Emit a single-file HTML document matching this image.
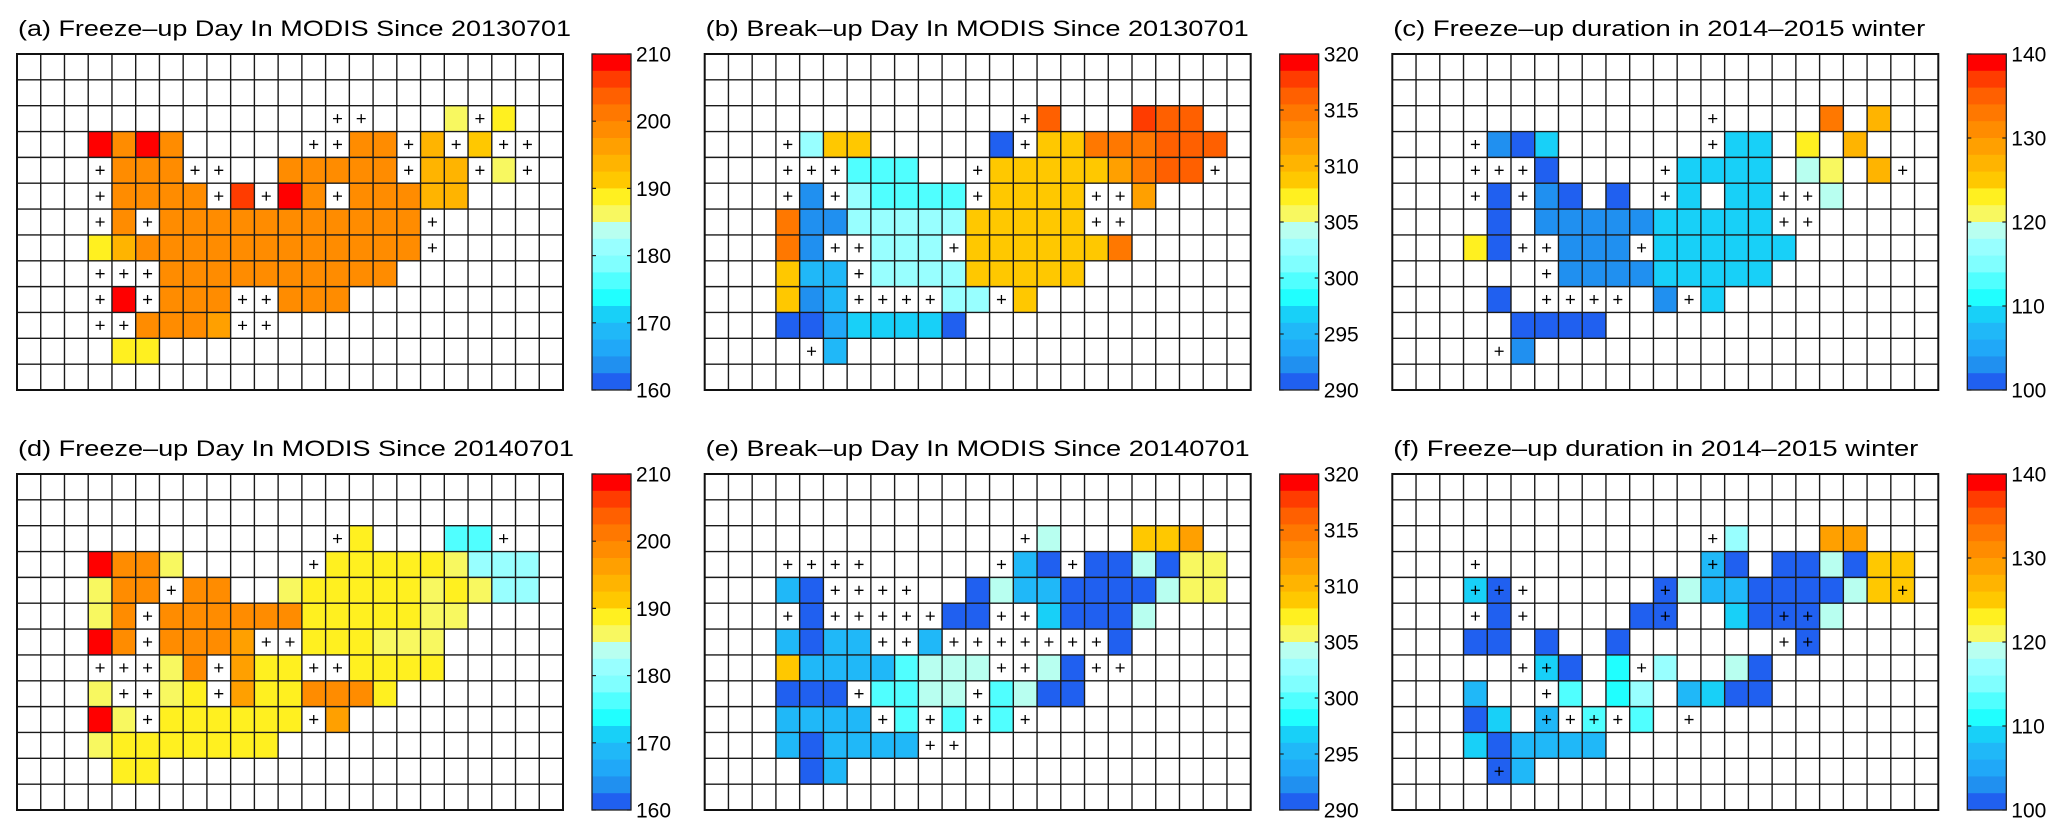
<!DOCTYPE html>
<html><head><meta charset="utf-8"><style>
html,body{margin:0;padding:0;background:#fff;}
svg{display:block;font-family:"Liberation Sans",Arial,sans-serif;}
</style></head>
<body>
<svg id="fig" width="2067" height="838" viewBox="0 0 2067 838" xmlns="http://www.w3.org/2000/svg"></svg>
<script>
// ---- data (cell runs: [row, colStart, colEnd, value]) ----
const titles = ["(a) Freeze\u2013up Day In MODIS Since 20130701","(b) Break\u2013up Day In MODIS Since 20130701","(c) Freeze\u2013up duration in 2014\u20132015 winter","(d) Freeze\u2013up Day In MODIS Since 20140701","(e) Break\u2013up Day In MODIS Since 20140701","(f) Freeze\u2013up duration in 2014\u20132015 winter"];
const rangesMin = [160,290,100,160,290,100];
const rangesMax = [210,320,140,210,320,140];
const tickStep = [10,5,10,10,5,10];

const cellsA = [[2,18,18,186],[2,20,20,189],[3,3,3,209],[3,4,4,199],[3,5,5,209],[3,6,6,199],[3,14,15,199],[3,17,17,194],[3,19,19,191],[4,4,6,199],[4,11,15,199],[4,17,18,194],[4,20,20,186],[5,4,7,199],[5,9,9,206],[5,11,11,209],[5,12,12,199],[5,14,16,199],[5,17,18,194],[6,4,4,199],[6,6,16,199],[7,3,3,189],[7,4,4,194],[7,5,16,199],[8,6,15,199],[9,4,4,209],[9,6,8,199],[9,11,13,199],[10,5,7,199],[10,8,8,196],[11,4,5,189]];
const plusA = [[2,13],[2,14],[2,19],[3,12],[3,13],[3,16],[3,18],[3,20],[3,21],[4,3],[4,7],[4,8],[4,16],[4,19],[4,21],[5,3],[5,8],[5,10],[5,13],[6,3],[6,5],[6,17],[7,17],[8,3],[8,4],[8,5],[9,3],[9,5],[9,9],[9,10],[10,3],[10,4],[10,9],[10,10]];

const cellsB = [[2,14,14,316.2],[2,18,18,317.7],[2,19,20,316.2],[3,4,4,302.7],[3,5,6,308.7],[3,12,12,290.7],[3,14,15,308.7],[3,16,18,314.7],[3,19,21,316.2],[4,6,8,299.7],[4,12,16,308.7],[4,17,17,311.7],[4,18,18,314.7],[4,19,20,316.2],[5,4,4,292.2],[5,6,6,302.7],[5,7,10,299.7],[5,12,15,308.7],[5,18,18,311.7],[6,3,3,314.7],[6,4,5,292.2],[6,6,10,302.7],[6,11,15,308.7],[7,3,3,314.7],[7,4,4,292.2],[7,7,9,302.7],[7,11,16,308.7],[7,17,17,314.7],[8,3,3,308.7],[8,4,5,295.2],[8,7,10,302.7],[8,11,15,308.7],[9,3,3,308.7],[9,4,4,292.2],[9,5,5,295.2],[9,10,11,302.7],[9,13,13,308.7],[10,3,4,290.7],[10,5,5,293.7],[10,6,9,296.7],[10,10,10,290.7],[11,5,5,295.2]];
const plusB = [[2,13],[3,3],[3,13],[4,3],[4,4],[4,5],[4,11],[4,21],[5,3],[5,5],[5,11],[5,16],[5,17],[6,16],[6,17],[7,5],[7,6],[7,10],[8,6],[9,6],[9,7],[9,8],[9,9],[9,12],[11,4]];

const cellsC = [[2,18,18,133],[2,20,20,127],[3,4,4,103],[3,5,5,101],[3,6,6,109],[3,14,15,109],[3,17,17,123],[3,19,19,127],[4,6,6,101],[4,12,15,109],[4,17,17,119],[4,18,18,121],[4,20,20,127],[5,4,4,101],[5,6,6,103],[5,7,7,101],[5,9,9,101],[5,12,12,109],[5,14,15,109],[5,18,18,119],[6,4,4,101],[6,6,10,103],[6,11,15,109],[7,3,3,123],[7,4,4,101],[7,7,9,103],[7,11,16,109],[8,7,10,103],[8,11,15,109],[9,4,4,101],[9,11,11,103],[9,13,13,109],[10,5,8,101],[11,5,5,103]];
const plusC = [[2,13],[3,3],[3,13],[4,3],[4,4],[4,5],[4,11],[4,21],[5,3],[5,5],[5,11],[5,16],[5,17],[6,16],[6,17],[7,5],[7,6],[7,10],[8,6],[9,6],[9,7],[9,8],[9,9],[9,12],[11,4]];

const cellsD = [[2,14,14,189],[2,18,19,176],[3,3,3,209],[3,4,5,199],[3,6,6,186],[3,13,17,189],[3,18,18,186],[3,19,21,181],[4,3,3,186],[4,4,5,199],[4,7,8,199],[4,11,11,186],[4,12,16,189],[4,17,17,186],[4,18,18,189],[4,19,19,186],[4,20,21,181],[5,3,3,186],[5,4,4,199],[5,6,11,199],[5,12,16,189],[5,17,18,186],[6,3,3,209],[6,4,4,199],[6,6,8,199],[6,9,9,196],[6,12,14,189],[6,15,17,186],[7,6,6,186],[7,7,7,199],[7,9,9,196],[7,10,11,189],[7,14,17,189],[8,3,3,186],[8,6,6,186],[8,7,7,189],[8,9,9,196],[8,10,11,189],[8,12,14,199],[8,15,15,189],[9,3,3,209],[9,4,4,186],[9,6,11,189],[9,13,13,196],[10,3,3,186],[10,4,10,189],[11,4,5,189]];
const plusD = [[2,13],[2,20],[3,12],[4,6],[5,5],[6,5],[6,10],[6,11],[7,3],[7,4],[7,5],[7,8],[7,12],[7,13],[8,4],[8,5],[8,8],[9,5],[9,12]];

const cellsE = [[2,14,14,304.2],[2,18,19,308.7],[2,20,20,311.7],[3,13,13,295.2],[3,14,14,290.7],[3,16,17,290.7],[3,18,18,304.2],[3,19,19,290.7],[3,20,21,305.7],[4,3,3,295.2],[4,4,4,290.7],[4,11,11,290.7],[4,12,12,304.2],[4,13,14,295.2],[4,15,18,290.7],[4,19,19,304.2],[4,20,21,305.7],[5,4,4,290.7],[5,10,11,290.7],[5,14,14,296.7],[5,15,17,290.7],[5,18,18,304.2],[6,3,3,295.2],[6,4,4,290.7],[6,5,6,295.2],[6,9,9,295.2],[6,17,17,290.7],[7,3,3,308.7],[7,4,7,295.2],[7,8,8,299.7],[7,9,11,304.2],[7,14,14,304.2],[7,15,15,290.7],[8,3,5,290.7],[8,7,8,299.7],[8,9,10,304.2],[8,12,12,299.7],[8,13,13,304.2],[8,14,15,290.7],[9,3,6,295.2],[9,8,8,299.7],[9,10,10,299.7],[9,12,12,299.7],[10,3,3,295.2],[10,4,4,290.7],[10,5,8,295.2],[11,4,4,290.7],[11,5,5,295.2]];
const plusE = [[2,13],[3,3],[3,4],[3,5],[3,6],[3,12],[3,15],[4,5],[4,6],[4,7],[4,8],[5,3],[5,5],[5,6],[5,7],[5,8],[5,9],[5,12],[5,13],[6,7],[6,8],[6,10],[6,11],[6,12],[6,13],[6,14],[6,15],[6,16],[7,12],[7,13],[7,16],[7,17],[8,6],[8,11],[9,7],[9,9],[9,11],[9,13],[10,9],[10,10]];

const cellsF = [[2,14,14,117],[2,18,19,129],[3,13,13,107],[3,14,14,101],[3,16,17,101],[3,18,18,119],[3,19,19,101],[3,20,21,125],[4,3,3,109],[4,4,4,101],[4,11,11,101],[4,12,12,119],[4,13,14,107],[4,15,18,101],[4,19,19,119],[4,20,21,125],[5,4,4,101],[5,10,11,101],[5,14,14,109],[5,15,17,101],[5,18,18,119],[6,3,4,101],[6,6,6,101],[6,9,9,101],[6,17,17,101],[7,6,6,109],[7,7,7,101],[7,9,9,111],[7,11,11,117],[7,14,14,119],[7,15,15,101],[8,3,3,107],[8,7,7,113],[8,9,9,111],[8,10,10,117],[8,12,12,107],[8,13,13,109],[8,14,15,101],[9,3,3,101],[9,4,4,109],[9,6,6,107],[9,8,8,113],[9,10,10,113],[10,3,3,109],[10,4,4,101],[10,5,8,107],[11,4,4,101],[11,5,5,107]];
const plusF = [[2,13],[3,3],[3,13],[4,3],[4,4],[4,5],[4,11],[4,21],[5,3],[5,5],[5,11],[5,16],[5,17],[6,16],[6,17],[7,5],[7,6],[7,10],[8,6],[9,6],[9,7],[9,8],[9,9],[9,12],[11,4]];

const cmap = ["#ff0000","#ff3c00","#ff6000","#ff7800","#ff8c00","#ffa000","#ffb400","#ffc800","#fff020","#f8f860","#b8fff0","#98ffff","#80ffff","#50ffff","#20ffff","#18d0f8","#20b8f8","#20a8f8","#2090f0","#2060f0"];

// ---- layout ----
const NS = "http://www.w3.org/2000/svg";
const svg = document.getElementById("fig");
const COLS = 23, ROWS = 13, GW = 546, GH = 336;
const CW = GW / COLS, CH = GH / ROWS;
const panelLeft = [17, 704.7, 1392.3, 17, 704.7, 1392.3];
const panelTop = [54, 54, 54, 474, 474, 474];
const titleLen = [553, 543, 532, 556, 544, 525];
const allCells = [cellsA, cellsB, cellsC, cellsD, cellsE, cellsF];
const allPlus = [plusA, plusB, plusC, plusD, plusE, plusF];
const letters = ["a","b","c","d","e","f"];

function mk(tag, attrs, parent) {
  const el = document.createElementNS(NS, tag);
  for (const k in attrs) el.setAttribute(k, attrs[k]);
  parent.appendChild(el);
  return el;
}
function colorFor(v, mn, mx) {
  const step = (mx - mn) / 20;
  let k = Math.floor((mx - v) / step);
  if (k < 0) k = 0; if (k > 19) k = 19;
  return cmap[k];
}

for (let p = 0; p < 6; p++) {
  const x0 = panelLeft[p], y0 = panelTop[p], mn = rangesMin[p], mx = rangesMax[p];
  const xs = c => x0 + c * CW;
  const ys = r => y0 + r * CH;
  const g = mk("g", {}, svg);
  
  

  const t = mk("text", {x: x0 + 1, y: y0 - 18, "font-size": 22.5, fill: "#000", textLength: titleLen[p], lengthAdjust: "spacingAndGlyphs"}, g);
  t.textContent = titles[p];
  
  

  // cells
  const cg = mk("g", {}, g);
  
  
  allCells[p].forEach(run => {
    for (let c = run[1]; c <= run[2]; c++) {
      const rc = mk("rect", {x: xs(c), y: ys(run[0]), width: CW, height: CH, fill: colorFor(run[3], mn, mx)}, cg);
      
      
    }
  });
  // grid lines
  const gg = mk("g", {stroke: "#1a1a1a", "stroke-width": 1.4}, g);
  
  
  for (let c = 1; c < COLS; c++) mk("line", {x1: xs(c), x2: xs(c), y1: y0, y2: y0 + GH}, gg);
  for (let r = 1; r < ROWS; r++) mk("line", {x1: x0, x2: x0 + GW, y1: ys(r), y2: ys(r)}, gg);
  const fr = mk("rect", {x: x0, y: y0, width: GW, height: GH, fill: "none", stroke: "#111", "stroke-width": 2}, g);
  
  
  // plus markers
  const pg = mk("g", {stroke: "#000", "stroke-width": 1.3}, g);
  
  
  allPlus[p].forEach(pt => {
    const cx = xs(pt[1]) + CW / 2, cy = ys(pt[0]) + CH / 2;
    const pe = mk("path", {d: `M${cx-4.5},${cy}H${cx+4.5}M${cx},${cy-4.5}V${cy+4.5}`, fill: "none"}, pg);
    
    
  });

  // colorbar
  const cbx = x0 + 575, cbw = 39;
  const cb = mk("g", {}, g);
  
  
  const bh = GH / 20;
  for (let k = 0; k < 20; k++) {
    const br = mk("rect", {x: cbx, y: y0 + k * bh, width: cbw, height: bh + 0.4, fill: cmap[k]}, cb);
    
    
  }
  mk("rect", {x: cbx, y: y0, width: cbw, height: GH, fill: "none", stroke: "#222", "stroke-width": 1.3}, cb);
  const cys = v => y0 + (mx - v) / (mx - mn) * GH;
  for (let v = mn; v <= mx + 1e-9; v += tickStep[p]) {
    const yy = cys(v);
    mk("line", {x1: cbx, x2: cbx + 4, y1: yy, y2: yy, stroke: "#222", "stroke-width": 1.2}, cb);
    mk("line", {x1: cbx + cbw - 4, x2: cbx + cbw, y1: yy, y2: yy, stroke: "#222", "stroke-width": 1.2}, cb);
    const tl = mk("text", {x: cbx + cbw + 5, y: yy + 7.5, "font-size": 21, fill: "#000"}, cb);
    tl.textContent = String(v);
    
    
  }
}
</script>
</body></html>
